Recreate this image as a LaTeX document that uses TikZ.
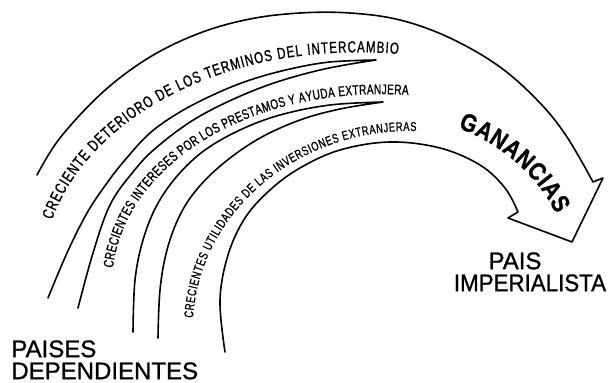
\documentclass[tikz,border=0pt]{standalone}
\usepackage{fontspec}
\setmainfont{Liberation Sans}
\newfontfamily\narrowfont[FakeStretch=0.72, FakeBold=1]{Liberation Sans}
\newfontfamily\gainfont[FakeStretch=0.85, FakeBold=1]{Liberation Sans Bold}
\newfontfamily\labelfont[FakeBold=1]{Liberation Sans}
\newfontfamily\labelnarrow[FakeBold=1, FakeStretch=0.93]{Liberation Sans}
\usetikzlibrary{decorations.text}
\tikzset{
  band/.style={line width=0.8pt, line cap=round, line join=round},
  arctext/.style={decorate, decoration={text along path, text align=fit to path, text={#1}}},
  biglabel/.style={inner sep=0pt, align=left},
}
\begin{document}
\begin{tikzpicture}[x=0.5pt, y=-0.5pt]
\useasboundingbox (0,0) rectangle (610,383);
% arrow outline
\draw[band] plot[smooth, tension=0.6] coordinates {(37,175) (60,138) (103,92) (150,57) (200,33) (250,19) (300,13) (350,13) (400,20) (450,38) (500,67) (540,103) (567,137) (593,182)}
  -- (603,178) -- (572,242) -- (508,218) -- (518,212)
  -- plot[smooth, tension=0.6] coordinates {(518,212) (505,188) (480,165) (440,148) (390,142) (340,150) (300,168) (270,190) (245,218) (228,255) (220,300) (225,352)};
% crescent 1
\draw[band] plot[smooth, tension=0.6] coordinates {(48,298) (67,253) (87,213) (107,183) (125,160) (150,133) (180,112) (215,94) (250,80) (290,69) (330,62) (376,60)}
  -- plot[smooth, tension=0.6] coordinates {(376,60) (320,70) (260,88) (200,116) (157,147) (133,172) (110,205) (93,253) (78,308)};
% crescent 2
\draw[band] plot[smooth, tension=0.6] coordinates {(133,332) (135,280) (143,240) (157,205) (178,175) (205,150) (240,130) (280,115) (330,105) (383,102)}
  -- plot[smooth, tension=0.6] coordinates {(383,102) (340,109) (300,120) (260,138) (225,162) (198,188) (180,215) (167,250) (160,290) (158,338)};
% curved texts
\path[arctext={|\narrowfont\fontsize{8}{9}\selectfont|CRECIENTE DETERIORO DE LOS TERMINOS DEL INTERCAMBIO}]
  (52,220) .. controls (90,115) and (230,40) .. (398,54);
\path[arctext={|\narrowfont\fontsize{7}{8}\selectfont|CRECIENTES INTERESES POR LOS PRESTAMOS Y AYUDA EXTRANJERA}]
  (113,268) .. controls (125,165) and (250,85) .. (408,95);
\path[arctext={|\narrowfont\fontsize{6.4}{7}\selectfont|CRECIENTES UTILIDADES DE LAS INVERSIONES EXTRANJERAS}]
  (193,318) .. controls (200,210) and (300,128) .. (416,131);
\path[arctext={|\gainfont\fontsize{12.5}{13}\selectfont|GANANCIAS}]
  (458,128) .. controls (500,143) and (538,176) .. (556,214);
% labels
\node[biglabel, anchor=north, font=\labelfont\fontsize{12}{12}\selectfont] (pais) at (515,252) {PAIS};
\node[biglabel, anchor=north, font=\labelnarrow\fontsize{12}{12}\selectfont] (imp) at (530,274) {IMPERIALISTA};
\node[biglabel, anchor=north west, font=\labelfont\fontsize{12}{11}\selectfont] (dep) at (11,340) {PAISES\\DEPENDIENTES};
\end{tikzpicture}
\end{document}
